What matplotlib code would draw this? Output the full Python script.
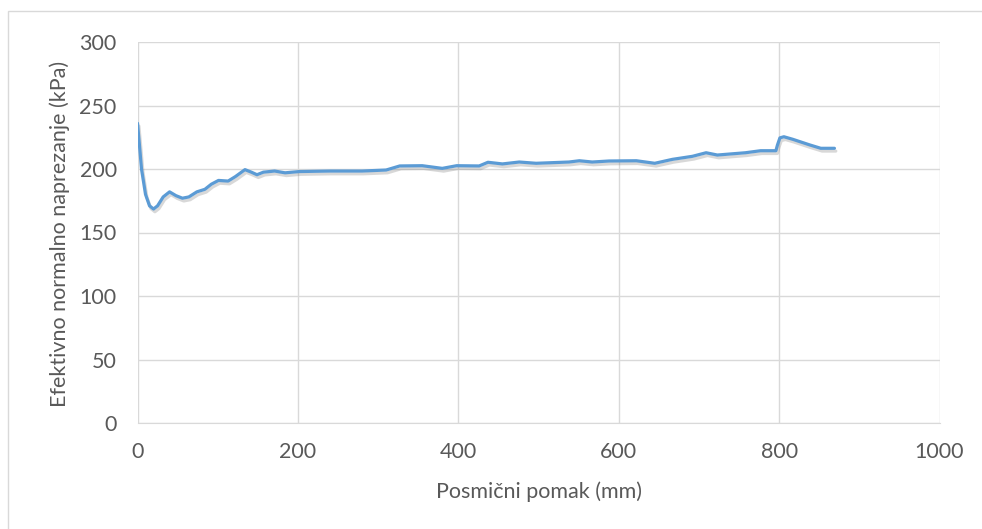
import matplotlib
matplotlib.use("Agg")
import matplotlib.pyplot as plt
import matplotlib.patheffects as pe
from matplotlib.patches import Rectangle

# shear displacement (mm) vs effective normal stress (kPa)
pomak = [0, 2, 5, 10, 15, 20, 25, 32, 40, 48, 56, 64, 74, 84, 92, 101, 113, 122,
         134, 142, 149, 157, 171, 184, 202, 240, 280, 310, 327, 355, 380, 398,
         426, 437, 455, 476, 497, 538, 551, 567, 588, 622, 645, 667, 692, 709,
         723, 758, 777, 796, 798, 801, 806, 817, 838, 852, 869]
naprezanje = [236, 222, 200, 180, 171, 168.5, 171, 178, 182, 179, 177, 178, 182,
              184, 188, 191, 190.5, 194, 199.5, 197.5, 195.5, 197.5, 198.4, 197,
              198, 198.4, 198.4, 199.2, 202.4, 202.6, 200.5, 202.6, 202.4, 205.3,
              204, 205.5, 204.5, 205.5, 206.5, 205.5, 206.3, 206.5, 204.5, 207.6,
              210, 212.8, 211, 212.8, 214.4, 214.4, 219, 224.5, 225.4, 223.4,
              219, 216.3, 216.3]

xticks = [0, 200, 400, 600, 800, 1000]
yticks = [0, 50, 100, 150, 200, 250, 300]

plt.rcParams['font.family'] = ['Lato', 'DejaVu Sans']
txt = '#595959'
grid = '#D9D9D9'
fs = 15.5

fig = plt.figure(figsize=(9.82, 5.29), dpi=100)
fig.patches.append(Rectangle((8/982, -0.1), 1.2, 1.1 - 11/529, transform=fig.transFigure,
                             fill=False, edgecolor=grid, lw=1))
ax = fig.add_axes([137.5/982, 1 - 423/529, (939.5 - 137.5)/982, (423 - 42)/529])

ax.plot(pomak, naprezanje, color='#5B9BD5', lw=2.3, solid_capstyle='round',
        path_effects=[pe.SimpleLineShadow(offset=(1, -2), shadow_color='gray', alpha=0.3),
                      pe.Normal()])

ax.set_xlim(0, 1000)
ax.set_ylim(0, 300)
ax.set_xticks(xticks)
ax.set_yticks(yticks)
ax.grid(True, color=grid, lw=1)
ax.set_axisbelow(True)
for s in ['top', 'right', 'left']:
    ax.spines[s].set_visible(False)
ax.spines['bottom'].set_color(grid)
ax.tick_params(length=0, labelsize=fs, labelcolor=txt)
ax.tick_params(axis='x', pad=14)
ax.tick_params(axis='y', pad=15)

fig.text(539/982, 1 - 492/529, 'Posmični pomak (mm)', ha='center', va='center',
         fontsize=fs, color=txt)
fig.text(60/982, 1 - 234/529, 'Efektivno normalno naprezanje (kPa)', ha='center',
         va='center', rotation=90, fontsize=fs, color=txt)

fig.savefig('out.png', dpi=100)
